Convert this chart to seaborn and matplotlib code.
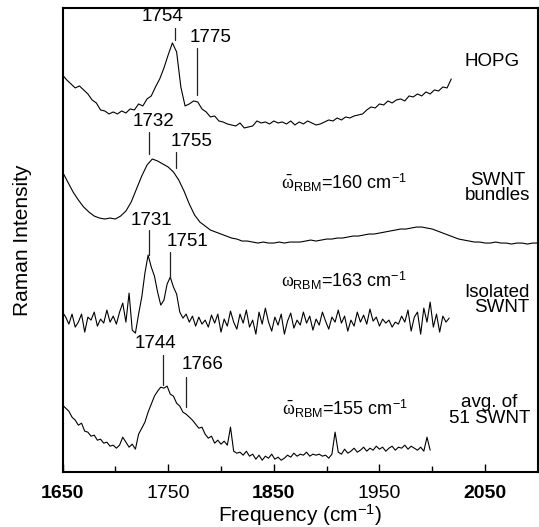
import numpy as np
import pandas as pd
import matplotlib
matplotlib.use("Agg")
import matplotlib.pyplot as plt
import seaborn as sns

# ---- spectra (intensity in arbitrary units, offset stacked) ----
HOPG_START, HOPG_STEP = 1650, 4
hopg = [397, 392, 388, 384, 386, 382, 378, 372, 369, 362, 361, 358, 360, 358, 361, 359,
        363, 362, 368, 366, 373, 376, 385, 393, 404, 417, 429, 420, 385, 366, 368, 371,
        370, 363, 360, 355, 356, 351, 350, 348, 347, 346, 349, 344, 345, 346, 351, 349,
        350, 348, 351, 349, 350, 348, 351, 347, 350, 348, 351, 349, 347, 348, 350, 352,
        351, 354, 352, 355, 354, 356, 357, 358, 362, 365, 364, 368, 367, 371, 369, 372,
        373, 371, 376, 375, 378, 376, 380, 378, 382, 381, 385, 384, 393]

BUND_START, BUND_STEP = 1650, 5
bundles = [300, 290, 280, 272, 265, 260, 256, 254, 253, 254, 253, 256, 261, 270, 283, 296,
           307, 313, 311, 308, 305, 300, 292, 281, 268, 257, 250, 246, 242, 240, 238, 236,
           234, 233, 231, 231, 230, 229, 230, 229, 229, 230, 229, 230, 230, 230, 231, 232,
           231, 232, 233, 233, 234, 234, 235, 236, 236, 237, 238, 238, 239, 240, 241, 242,
           243, 243, 244, 245, 245, 244, 243, 241, 239, 237, 235, 233, 232, 231, 230, 230,
           229, 229, 230, 229, 229, 228, 229, 229, 228, 229, 229]

ISO_START, ISO_STEP = 1650, 3
isolated = [160, 155, 148, 158, 145, 150, 158, 140, 155, 152, 160, 146, 153, 149, 162, 150,
            156, 148, 160, 169, 150, 179, 142, 139, 158, 175, 199, 217, 205, 196, 180, 167,
            172, 188, 195, 185, 178, 160, 154, 158, 150, 156, 146, 155, 148, 152, 145, 157,
            149, 158, 140, 153, 146, 161, 150, 143, 158, 149, 162, 145, 152, 138, 160, 148,
            164, 150, 141, 155, 147, 158, 138, 151, 159, 144, 152, 147, 160, 149, 156, 142,
            153, 147, 160, 151, 143, 155, 150, 162, 149, 156, 141, 152, 146, 160, 150, 157,
            148, 163, 151, 155, 146, 153, 149, 152, 145, 150, 148, 156, 150, 162, 141, 155,
            160, 138, 164, 150, 170, 145, 158, 140, 156, 150, 154]

AVG_START, AVG_STEP = 1650, 3
avg51 = [67, 64, 61, 55, 52, 47, 49, 41, 40, 36, 37, 32, 33, 29, 30, 26,
         27, 24, 27, 35, 30, 25, 28, 23, 38, 44, 50, 60, 68, 76, 81, 85,
         84, 86, 78, 76, 69, 66, 60, 58, 55, 52, 48, 44, 45, 38, 34, 36,
         29, 32, 28, 31, 27, 45, 21, 19, 20, 17, 21, 16, 18, 13, 17, 12,
         16, 14, 18, 13, 15, 12, 14, 17, 15, 19, 16, 18, 17, 20, 16, 18,
         17, 18, 16, 17, 14, 18, 40, 20, 18, 23, 19, 21, 24, 20, 22, 25,
         21, 24, 22, 26, 23, 25, 21, 24, 26, 22, 25, 24, 27, 23, 26, 24,
         22, 25, 21, 35, 22]

# peak markers: label, tick x, tick y0, tick y1, text x, text y
peak_labels = ["1754", "1775", "1732", "1755", "1731", "1751", "1744", "1766"]
peak_tick_x = [1756, 1777, 1732, 1757, 1732, 1752, 1745, 1767]
peak_tick_y0 = [432, 377, 318, 304, 217, 195, 87, 65]
peak_tick_y1 = [444, 424, 340, 320, 242, 220, 117, 95]
peak_text_x = [1745, 1790, 1736, 1772, 1734, 1768, 1738, 1783]
peak_text_y = [455, 434, 350, 330, 252, 231, 129, 108]

sample_labels = ["HOPG", "SWNT\nbundles", "Isolated\nSWNT", "avg. of\n51 SWNT"]
sample_x = [2057, 2062, 2092, 2054]
sample_y = [410, 284, 172, 62]
sample_ha = ["center", "center", "right", "center"]

rbm_labels = [r"$\bar{\omega}_{\mathrm{RBM}}$=160 cm$^{-1}$",
              r"$\omega_{\mathrm{RBM}}$=163 cm$^{-1}$",
              r"$\bar{\omega}_{\mathrm{RBM}}$=155 cm$^{-1}$"]
rbm_x = [1857, 1857, 1858]
rbm_y = [289, 191, 63]

sns.set_style("ticks")
plt.rcParams["font.family"] = ["Liberation Sans", "DejaVu Sans"]
plt.rcParams["mathtext.fontset"] = "custom"
plt.rcParams["mathtext.rm"] = "Liberation Sans"
plt.rcParams["mathtext.it"] = "Liberation Serif"
plt.rcParams["mathtext.bf"] = "Liberation Sans:bold"
plt.rcParams["text.color"] = "black"
plt.rcParams["axes.labelcolor"] = "black"
plt.rcParams["axes.edgecolor"] = "black"
plt.rcParams["xtick.color"] = "black"

frames = []
for name, vals, start, step in [("HOPG", hopg, HOPG_START, HOPG_STEP),
                                ("bundles", bundles, BUND_START, BUND_STEP),
                                ("isolated", isolated, ISO_START, ISO_STEP),
                                ("avg", avg51, AVG_START, AVG_STEP)]:
    freq = start + step * np.arange(len(vals))
    frames.append(pd.DataFrame({"freq": freq, "intensity": vals, "sample": name}))
df = pd.concat(frames, ignore_index=True)

fig = plt.figure(figsize=(5.39, 5.27), dpi=100)
ax = fig.add_axes([0.116, 0.104, 0.882, 0.881])

sns.lineplot(data=df, x="freq", y="intensity", units="sample", estimator=None,
             color="black", lw=0.8, sort=False, ax=ax)

for lab, tx, y0, y1, xt, yt in zip(peak_labels, peak_tick_x, peak_tick_y0, peak_tick_y1,
                                   peak_text_x, peak_text_y):
    ax.plot([tx, tx], [y0, y1], color="#222222", lw=0.9)
    ax.text(xt, yt, lab, ha="center", va="center", fontsize=13.5)

for lab, x, y, ha in zip(sample_labels, sample_x, sample_y, sample_ha):
    ax.text(x, y, lab, ha=ha, va="center", fontsize=13.5, linespacing=0.9)

for lab, x, y in zip(rbm_labels, rbm_x, rbm_y):
    ax.text(x, y, lab, ha="left", va="center", fontsize=13)

ax.set_xlim(1650, 2100)
ax.set_ylim(0, 464)
ax.set_xticks([1650, 1750, 1850, 1950, 2050])
ax.set_xticks([1700, 1800, 1900, 2000], minor=True)
ax.set_yticks([])
ax.tick_params(axis="x", which="both", direction="in", top=False, labelsize=14, pad=9)
ax.tick_params(axis="x", which="major", length=6, width=1)
ax.tick_params(axis="x", which="minor", length=4, width=1)
for lbl in ax.get_xticklabels():
    if lbl.get_text() in ("1650", "1850", "2050"):
        lbl.set_fontweight("bold")
for sp in ax.spines.values():
    sp.set_linewidth(1.5)
    sp.set_visible(True)

ax.set_xlabel("Frequency (cm$^{-1}$)", fontsize=15, labelpad=1)
ax.set_ylabel("Raman Intensity", fontsize=15, labelpad=22)
if ax.get_legend():
    ax.get_legend().remove()

fig.savefig("out.png", dpi=100)
plt.close(fig)
